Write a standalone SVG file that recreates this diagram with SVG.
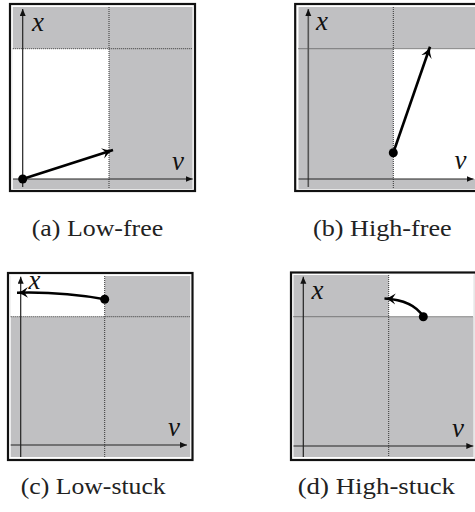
<svg xmlns="http://www.w3.org/2000/svg" width="475" height="512" viewBox="0 0 475 512">
<style>
.frame{fill:#fff;stroke:#111;stroke-width:2.2}
.gray{fill:#c0c0c2}
.white{fill:#fff}
.dot{stroke:#333;stroke-width:1;stroke-dasharray:1 1;fill:none}
.axis{stroke:#222;stroke-width:1.2;fill:none}
.arr{stroke:#000;stroke-width:2.6;fill:none}
.lbl{font-family:"Liberation Serif","Times New Roman",serif;font-style:italic;font-size:27px;fill:#111}
.cap{font-family:"Liberation Serif","Times New Roman",serif;font-size:23px;fill:#222}
</style>
<defs>
<marker id="ax" markerUnits="userSpaceOnUse" markerWidth="8" markerHeight="7" refX="7" refY="3" orient="auto">
<path d="M0,0 L7,3 L0,6 Z" fill="#111"/>
</marker>
<marker id="ah" markerUnits="userSpaceOnUse" markerWidth="13" markerHeight="12" refX="11" refY="5.5" orient="auto">
<path d="M0,0 Q5,4 11,5.5 Q5,7 0,11 L3.5,5.5 Z" fill="#000"/>
</marker>
</defs>

<g id="panel-a">
<rect class="frame" x="10" y="4" width="185" height="187"/>
<rect class="gray" x="12.8" y="7" width="179.7" height="182"/>
<rect class="white" x="12.8" y="48.7" width="96.2" height="130.3"/>
<line class="dot" x1="12.8" y1="48.7" x2="192.5" y2="48.7"/>
<line class="dot" x1="109" y1="7" x2="109" y2="189"/>
<line class="axis" x1="22.7" y1="187" x2="22.7" y2="9" marker-end="url(#ax)"/>
<line class="axis" x1="13" y1="179" x2="192.7" y2="179" marker-end="url(#ax)"/>
<text class="lbl" x="32" y="30.5">x</text>
<text class="lbl" x="172" y="169.5">v</text>
<circle cx="22.7" cy="179" r="4.5" fill="#000"/>
</g>

<g id="panel-b">
<rect class="frame" x="295.2" y="4" width="185" height="187"/>
<rect class="gray" x="298.5" y="7" width="180" height="182"/>
<rect class="white" x="393.3" y="48.7" width="85.2" height="130.3"/>
<line class="dot" x1="298.5" y1="48.7" x2="478.5" y2="48.7"/>
<line class="dot" x1="393.3" y1="7" x2="393.3" y2="189"/>
<line class="axis" x1="308.3" y1="187" x2="308.3" y2="9" marker-end="url(#ax)" style="stroke:#555;stroke-width:1.6"/>
<line class="axis" x1="298.5" y1="179" x2="473.5" y2="179" marker-end="url(#ax)"/>
<text class="lbl" x="316" y="30">x</text>
<text class="lbl" x="454.5" y="169">v</text>
<circle cx="393.3" cy="152.7" r="4.5" fill="#000"/>
</g>

<g id="panel-c">
<rect class="frame" x="8" y="273" width="184.5" height="187"/>
<rect class="gray" x="10.7" y="276" width="179.5" height="181"/>
<rect class="white" x="10.7" y="276" width="94" height="40.7"/>
<line class="dot" x1="10.7" y1="316.7" x2="190.2" y2="316.7"/>
<line class="dot" x1="104.7" y1="276" x2="104.7" y2="457"/>
<line class="axis" x1="20.7" y1="457" x2="20.7" y2="276.7" marker-end="url(#ax)"/>
<line class="axis" x1="10.7" y1="445" x2="187" y2="445" marker-end="url(#ax)"/>
<text class="lbl" x="28.5" y="289">x</text>
<text class="lbl" x="168" y="436">v</text>
<circle cx="104.7" cy="299.3" r="4.5" fill="#000"/>
</g>

<g id="panel-d">
<rect class="frame" x="291" y="272.5" width="185" height="187.5"/>
<rect class="gray" x="293.5" y="275" width="180" height="182"/>
<rect class="white" x="388.7" y="275" width="84.8" height="41.7"/>
<line class="dot" x1="293.5" y1="316.7" x2="473.5" y2="316.7"/>
<line class="dot" x1="388.7" y1="275" x2="388.7" y2="457"/>
<line class="axis" x1="303.3" y1="457" x2="303.3" y2="276.7" marker-end="url(#ax)"/>
<line class="axis" x1="293.5" y1="446" x2="473.3" y2="446" marker-end="url(#ax)"/>
<text class="lbl" x="311.5" y="298.5">x</text>
<text class="lbl" x="452" y="436.5">v</text>
<circle cx="423.3" cy="316.7" r="4.5" fill="#000"/>
</g>

<g id="connectors">
<line class="arr" x1="22.7" y1="179" x2="113" y2="150" marker-end="url(#ah)"/>
<line class="arr" x1="393.3" y1="152.7" x2="430" y2="46.7" marker-end="url(#ah)"/>
<path class="arr" d="M104.7,299.3 Q62,291.5 17,292.7" marker-end="url(#ah)"/>
<path class="arr" d="M423.3,316.7 Q413,300 384.5,298.5" marker-end="url(#ah)"/>
</g>

<g id="captions">
<text class="cap" x="31.7" y="236" textLength="131.5" lengthAdjust="spacingAndGlyphs">(a) Low-free</text>
<text class="cap" x="313" y="236" textLength="138.7" lengthAdjust="spacingAndGlyphs">(b) High-free</text>
<text class="cap" x="20.7" y="494" textLength="145" lengthAdjust="spacingAndGlyphs">(c) Low-stuck</text>
<text class="cap" x="297.7" y="494" textLength="157.3" lengthAdjust="spacingAndGlyphs">(d) High-stuck</text>
</g>
</svg>
